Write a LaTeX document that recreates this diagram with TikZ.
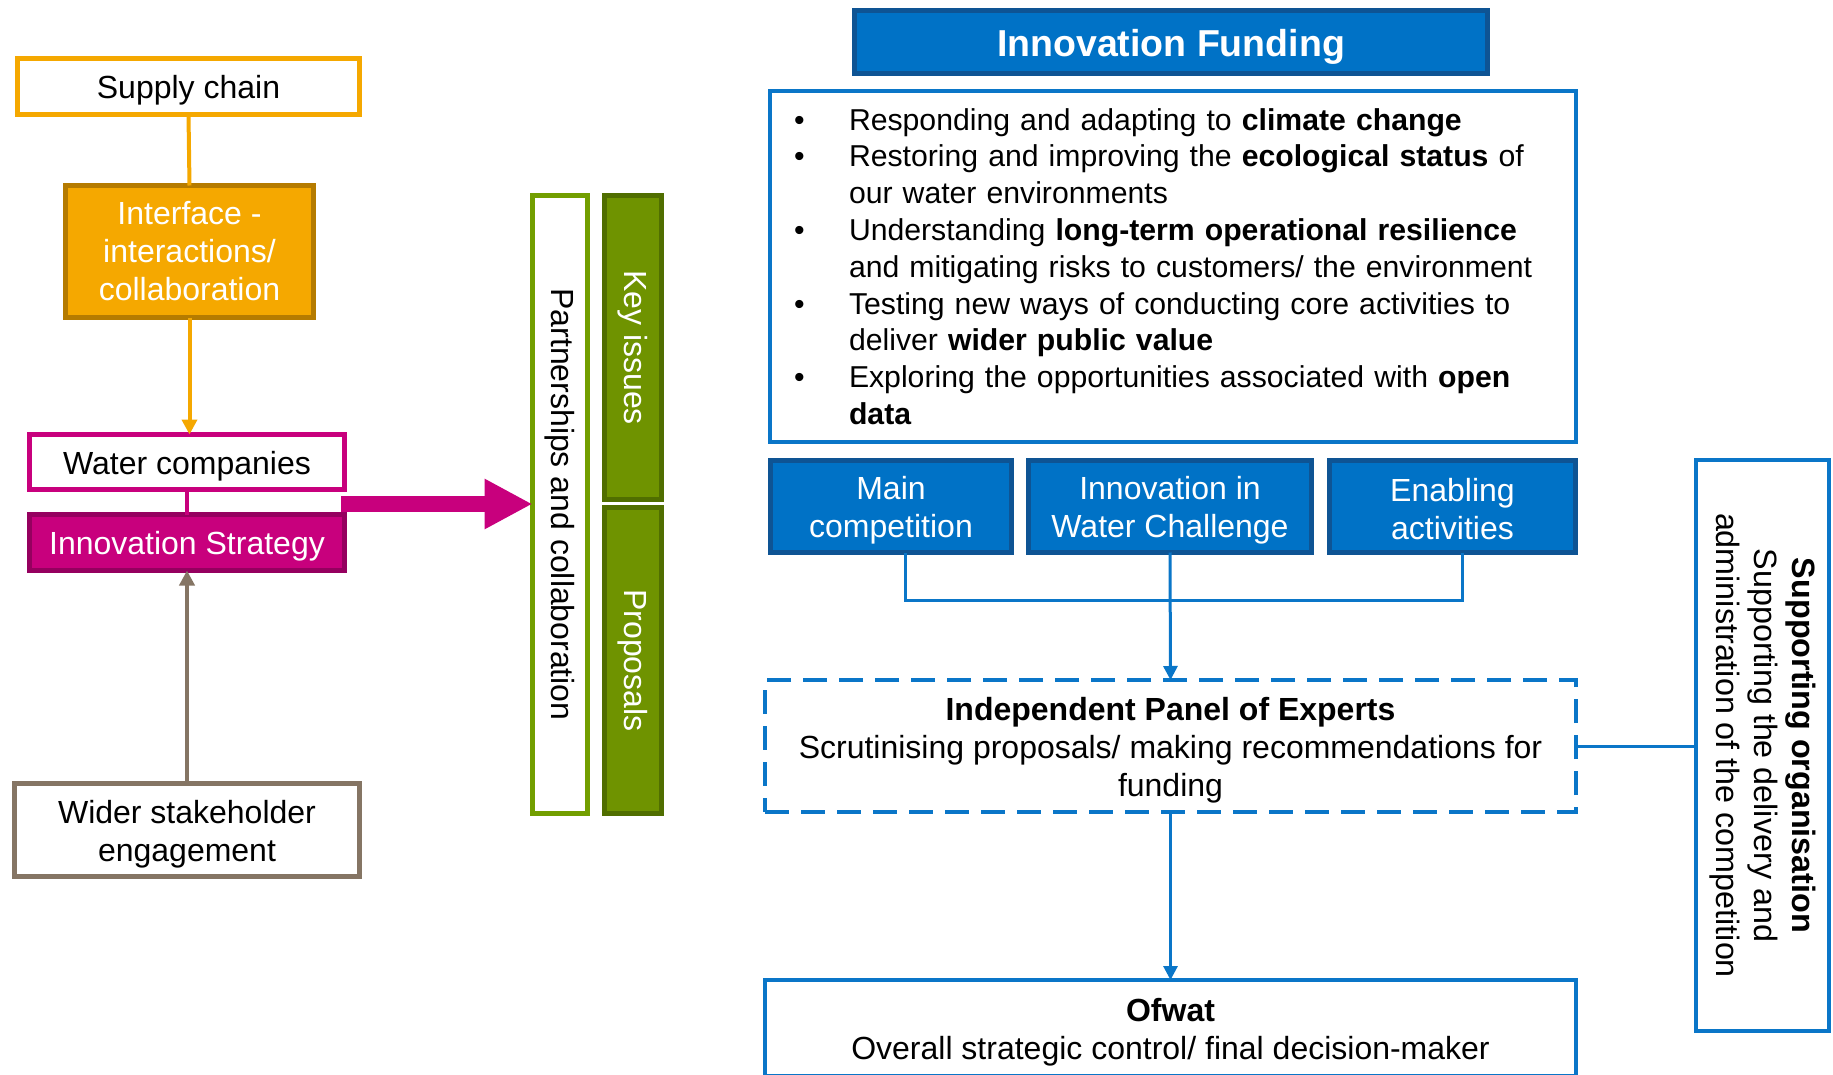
\documentclass[tikz,border=0pt]{standalone}
\usepackage{fontspec}
\setmainfont{Liberation Sans}
\usetikzlibrary{arrows.meta}
\definecolor{orangeC}{RGB}{245,168,0}
\definecolor{orangeD}{RGB}{181,123,0}
\definecolor{magC}{RGB}{200,0,125}
\definecolor{magD}{RGB}{149,0,95}
\definecolor{brownC}{RGB}{133,117,100}
\definecolor{greenC}{RGB}{111,147,0}
\definecolor{greenD}{RGB}{80,110,0}
\definecolor{greenL}{RGB}{114,158,0}
\definecolor{blueC}{RGB}{0,114,198}
\definecolor{blueD}{RGB}{14,84,148}
\definecolor{blueL}{RGB}{10,118,200}
\newcommand\mystrut{\rule[-0.1em]{0pt}{1.06em}}
\pgfdeclarelayer{bg}
\pgfsetlayers{bg,main}
\tikzset{
  base/.style={inner sep=0pt, outer sep=0pt, align=center, font=\fontsize{32}{38}\selectfont},
  obox/.style={base, draw=orangeC, line width=5pt, fill=white},
  ifbox/.style={base, draw=orangeD, line width=5pt, fill=orangeC, text=white},
  mbox/.style={base, draw=magC, line width=5pt, fill=white},
  msbox/.style={base, draw=magD, line width=5pt, fill=magC, text=white},
  brbox/.style={base, draw=brownC, line width=5pt, fill=white},
  gobox/.style={base, draw=greenL, line width=5pt, fill=white},
  gfbox/.style={base, draw=greenD, line width=5pt, fill=greenC, text=white},
  bfbox/.style={base, draw=blueD, line width=5pt, fill=blueC, text=white},
  blbox/.style={base, draw=blueL, line width=4pt, fill=white},
  dbox/.style={base, draw=blueL, line width=4pt, dash pattern=on 24pt off 12pt, fill=white},
  smallhead/.style={-{Triangle[length=15pt,width=15pt]}},
  oline/.style={draw=orangeC, line width=4pt},
  mline/.style={draw=magC, line width=4pt},
  brline/.style={draw=brownC, line width=4.5pt},
  bline/.style={draw=blueL, line width=3pt},
}
\begin{document}
\begin{tikzpicture}[x=1pt,y=-1pt]
\useasboundingbox[fill=white] (0,0) rectangle (1833,1075);

% left column
\node[obox, minimum width=342, minimum height=56] (supply) at (188.5,86.5) {\mystrut Supply chain};
\node[ifbox, minimum width=248, minimum height=132] (iface) at (189.5,251.5) {Interface -\\interactions/\\collaboration};
\node[mbox, minimum width=315, minimum height=55] (water) at (187,462) {\mystrut Water companies};
\node[msbox, minimum width=315, minimum height=56] (strat) at (187,542.5) {\mystrut Innovation Strategy};
\node[brbox, minimum width=345, minimum height=93] (wider) at (187,830) {\mystrut Wider stakeholder\\\mystrut engagement};

% green column
\node[gobox, minimum width=55, minimum height=618] (partner) at (560,504.5) {};
\node[base, rotate=-90] (partnertxt) at (partner.center) {Partnerships and collaboration};
\node[gfbox, minimum width=57, minimum height=304] (key) at (633,347.5) {};
\node[base, rotate=-90, text=white] (keytxt) at (key.center) {Key issues};
\node[gfbox, minimum width=57, minimum height=306] (prop) at (633,660.5) {};
\node[base, rotate=-90, text=white] (proptxt) at (prop.center) {Proposals};

% funding
\node[bfbox, minimum width=633, minimum height=63, font=\bfseries\fontsize{37.5}{44}\selectfont] (head) at (1171,42) {\mystrut Innovation Funding};
\node[blbox, minimum width=806, minimum height=351, text width=758, align=left, font=\fontsize{30.2}{36.8}\selectfont] (goals) at (1173,266.5) {%
\makebox[55pt][l]{•}Responding and adapting to \textbf{climate change}\\
\makebox[55pt][l]{•}Restoring and improving the \textbf{ecological status} of\\
\hspace*{55pt}our water environments\\
\makebox[55pt][l]{•}Understanding \textbf{long-term operational resilience}\\
\hspace*{55pt}and mitigating risks to customers/ the environment\\
\makebox[55pt][l]{•}Testing new ways of conducting core activities to\\
\hspace*{55pt}deliver \textbf{wider public value}\\
\makebox[55pt][l]{•}Exploring the opportunities associated with \textbf{open}\\
\hspace*{55pt}\textbf{data}};

\node[bfbox, minimum width=241, minimum height=92] (mainc) at (891,506.5) {\mystrut Main\\\mystrut competition};
\node[bfbox, minimum width=283, minimum height=92] (iwc) at (1170,506.5) {\mystrut Innovation in\\\mystrut Water Challenge};
\node[bfbox, minimum width=246, minimum height=92] (enab) at (1452.5,506.5) {\mystrut Enabling\\\mystrut activities};

\node[dbox, minimum width=811, minimum height=132] (panel) at (1170.5,746) {\mystrut\textbf{Independent Panel of Experts}\\\mystrut Scrutinising proposals/ making recommendations for\\\mystrut funding};
\node[blbox, minimum width=811, minimum height=96] (ofwat) at (1170.5,1028) {\mystrut\textbf{Ofwat}\\\mystrut Overall strategic control/ final decision-maker};

\node[blbox, minimum width=133, minimum height=571] (supp) at (1762.5,745.5) {};
\node[base, rotate=-90, font=\fontsize{32.3}{38}\selectfont] (supptxt) at (supp.center) {\textbf{Supporting organisation}\\Supporting the delivery and\\administration of the competition};

% connectors
\draw[oline] (supply.south) -- (iface.north);
\draw[oline, smallhead] (iface.south) -- (iface.south |- water.north);
\draw[mline] (water.south) -- (strat.north);
\draw[brline, smallhead] (wider.north) -- (strat.south);

\coordinate (mstart) at (341,504);
\draw[magC, line width=16pt, -{Triangle[length=48pt,width=47pt]}] (mstart) -- (partner.west |- mstart);

\coordinate (gy) at (0,504);
\coordinate (gtip) at (1651,504);
\begin{pgfonlayer}{bg}
\draw[greenC, line width=16pt, -{Triangle[length=49pt,width=48pt]}] (key.east |- gy) -- (gtip);
\end{pgfonlayer}

\coordinate (by) at (0,600);
\draw[bline] ([xshift=14pt]mainc.south) -- ([xshift=14pt]mainc.south |- by) -- ([xshift=10pt]enab.south |- by) -- ([xshift=10pt]enab.south);
\draw[bline, -{Triangle[length=14pt,width=14pt]}] (iwc.south) -- (panel.north);
\draw[bline, -{Triangle[length=14pt,width=14pt]}] (panel.south) -- (ofwat.north);
\draw[bline] (panel.east) -- (supp.west |- panel.east);
\end{tikzpicture}
\end{document}
